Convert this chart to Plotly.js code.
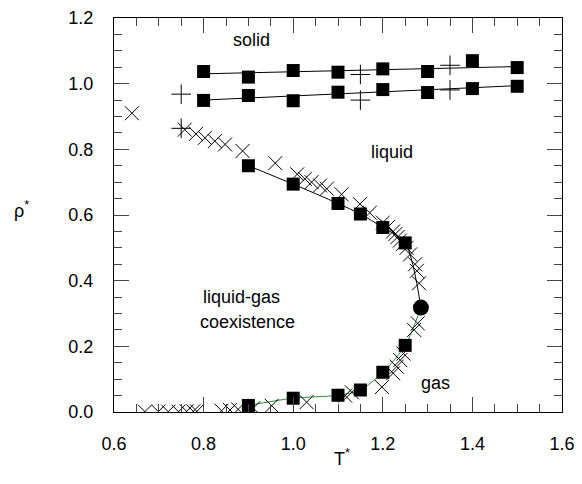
<!DOCTYPE html>
<html>
<head>
<meta charset="utf-8">
<script src="https://cdn.plot.ly/plotly-3.0.1.min.js"></script>
<style>
  html, body { margin: 0; padding: 0; background: #fff; }
  #chart { width: 582px; height: 484px; }
</style>
</head>
<body>
<div id="chart"></div>
<script>
// Phase diagram of the reduced density rho* against reduced temperature T*

// Solid / liquid coexistence (filled squares)
const meltT = [0.8, 0.9, 1.0, 1.1, 1.2, 1.3, 1.4, 1.5];
const solidRho = [1.037, 1.020, 1.040, 1.035, 1.045, 1.037, 1.070, 1.049];
const liquidMeltRho = [0.949, 0.964, 0.948, 0.974, 0.982, 0.973, 0.985, 0.992];

// Straight-line fits through the two melting branches
const fitT = [0.8, 1.5];
const solidFitRho = [1.030, 1.052];
const liquidFitRho = [0.950, 0.994];

// Second set of melting points (plus symbols)
const plusT = [0.75, 0.75, 1.15, 1.15, 1.35, 1.35];
const plusRho = [0.968, 0.864, 1.028, 0.950, 1.056, 0.981];

// Liquid-gas coexistence, filled squares
const coexT = [0.9, 1.0, 1.1, 1.15, 1.2, 1.25];
const coexLiqRho = [0.750, 0.694, 0.635, 0.603, 0.562, 0.515];
const coexGasRho = [0.020, 0.042, 0.051, 0.067, 0.121, 0.203];

// Critical point
const critT = [1.285];
const critRho = [0.318];

// Liquid-gas coexistence, crosses (liquid branch)
const crossLiqT = [0.64, 0.758, 0.783, 0.803, 0.825, 0.848, 0.887, 0.960, 1.009, 1.026, 1.041,
  1.060, 1.075, 1.108, 1.149, 1.171, 1.200, 1.212, 1.223, 1.228, 1.233, 1.238, 1.245,
  1.253, 1.261, 1.272, 1.276, 1.281];
const crossLiqRho = [0.910, 0.860, 0.847, 0.835, 0.825, 0.815, 0.795, 0.758, 0.724, 0.710, 0.700,
  0.690, 0.680, 0.663, 0.633, 0.607, 0.577, 0.564, 0.550, 0.542, 0.533, 0.522, 0.512,
  0.500, 0.480, 0.450, 0.430, 0.392];

// Liquid-gas coexistence, crosses (gas branch)
const crossGasT = [1.278, 1.270, 1.246, 1.239, 1.231, 1.223, 1.198, 1.131, 1.116, 1.030,
  0.952, 0.911, 0.877, 0.859, 0.840, 0.785, 0.777, 0.762, 0.744, 0.721, 0.699, 0.669];
const crossGasRho = [0.270, 0.250, 0.178, 0.158, 0.138, 0.118, 0.076, 0.060, 0.050, 0.030,
  0.019, 0.012, 0.008, 0.006, 0.004, 0.002, 0.002, 0.002, 0.001, 0.001, 0.001, 0.001];

// Axis extents and tick spacing
const tRange = [0.6, 1.6];
const rhoRange = [0, 1.2];
const majorStep = 0.2;
const minorStep = 0.05;

// Smooth coexistence curves through the squares and the critical point
const liqCurveT = coexT.concat(critT);
const liqCurveRho = coexLiqRho.concat(critRho);
const gasCurveT = critT.concat(coexT.slice().reverse());
const gasCurveRho = critRho.concat(coexGasRho.slice().reverse());

const FONT = 'Liberation Sans, Arial, sans-serif';
const sq = { symbol: 'square', size: 13, color: '#000' };
const thin = (symbol) => ({ symbol: symbol, size: 14, color: '#000', line: { color: '#000', width: 1 } });

const traces = [
  { x: fitT, y: solidFitRho, mode: 'lines', line: { color: '#000', width: 1 } },
  { x: fitT, y: liquidFitRho, mode: 'lines', line: { color: '#000', width: 1 } },
  { x: liqCurveT, y: liqCurveRho, mode: 'lines', line: { color: '#000', width: 1, shape: 'spline', smoothing: 0.8 } },
  { x: gasCurveT, y: gasCurveRho, mode: 'lines', line: { color: '#2e8b3a', width: 1, shape: 'spline', smoothing: 0.8 } },
  { x: crossLiqT, y: crossLiqRho, mode: 'markers', marker: thin('x-thin-open') },
  { x: crossGasT, y: crossGasRho, mode: 'markers', marker: thin('x-thin-open') },
  { x: plusT, y: plusRho, mode: 'markers', marker: thin('cross-thin-open') },
  { x: meltT, y: solidRho, mode: 'markers', marker: sq },
  { x: meltT, y: liquidMeltRho, mode: 'markers', marker: sq },
  { x: coexT, y: coexLiqRho, mode: 'markers', marker: sq },
  { x: coexT, y: coexGasRho, mode: 'markers', marker: sq },
  { x: critT, y: critRho, mode: 'markers', marker: { symbol: 'circle', size: 16, color: '#000' } }
];

// Boxed frame with inward ticks on all four sides
const axisCommon = {
  showgrid: false, zeroline: false,
  showline: true, linecolor: '#000', linewidth: 1,
  mirror: 'allticks', ticks: 'inside', ticklen: 15, tickwidth: 1, tickcolor: '#444',
  dtick: majorStep, tickformat: '.1f',
  tickfont: { family: FONT, size: 18, color: '#000' },
  minor: { ticks: 'inside', ticklen: 8, tickwidth: 1, tickcolor: '#444', dtick: minorStep, showgrid: false }
};

const layout = {
  width: 582, height: 484,
  margin: { l: 114, r: 20, t: 18, b: 72 },
  paper_bgcolor: '#fff', plot_bgcolor: '#fff',
  showlegend: false,
  font: { family: FONT, size: 18, color: '#000' },
  xaxis: Object.assign({}, axisCommon, { range: tRange, tick0: tRange[0], ticklabelstandoff: 15 }),
  yaxis: Object.assign({}, axisCommon, { range: rhoRange, tick0: rhoRange[0], ticklabelstandoff: 16 }),
  annotations: [
    { text: 'ρ<sup>*</sup>', xref: 'paper', yref: 'paper', x: -0.227, y: 0.515, showarrow: false,
      font: { family: FONT, size: 18 } },
    { text: 'T<sup>*</sup>', xref: 'paper', yref: 'paper', x: 0.508, y: -0.15, showarrow: false,
      font: { family: FONT, size: 18 } },
    { text: 'solid', x: 0.906, y: 1.133, showarrow: false, font: { family: FONT, size: 18 } },
    { text: 'liquid', x: 1.22, y: 0.793, showarrow: false, font: { family: FONT, size: 18 } },
    { text: 'liquid-gas', x: 0.885, y: 0.351, showarrow: false, font: { family: FONT, size: 18 } },
    { text: 'coexistence', x: 0.899, y: 0.274, showarrow: false, font: { family: FONT, size: 18 } },
    { text: 'gas', x: 1.318, y: 0.087, showarrow: false, font: { family: FONT, size: 18 } }
  ]
};

Plotly.newPlot('chart', traces, layout, { staticPlot: true, displayModeBar: false });
</script>
</body>
</html>
